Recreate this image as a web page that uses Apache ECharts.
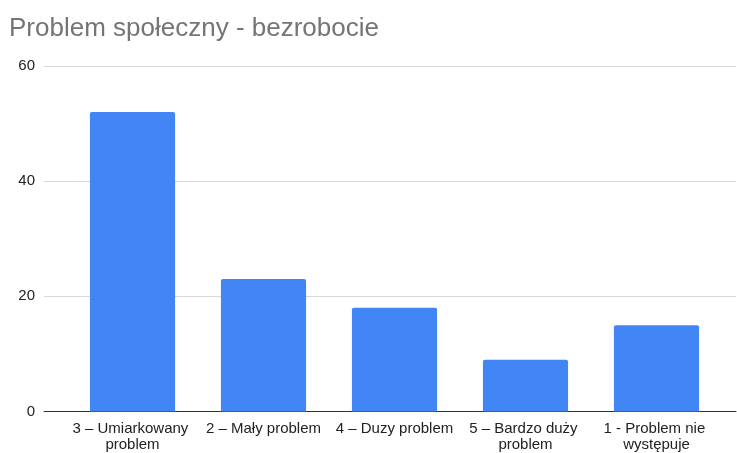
<!DOCTYPE html>
<html>
<head>
<meta charset="utf-8">
<script src="https://cdn.jsdelivr.net/npm/echarts@6/dist/echarts.min.js"></script>
<style>html,body{margin:0;padding:0;background:#fff}#c{width:737px;height:453px}</style>
</head>
<body>
<div id="c"></div>
<script>
const title = "Problem społeczny - bezrobocie";
const categories = ["3 – Umiarkowany problem", "2 – Mały problem", "4 – Duzy problem", "5 – Bardzo duży problem", "1 - Problem nie występuje"];
const values = [52, 23, 18, 9, 15];
const yTicks = { min: 0, max: 60, interval: 20 };

const chart = echarts.init(document.getElementById('c'), null, { renderer: 'canvas' });
const font = 'Arial, "Liberation Sans", sans-serif';
chart.setOption({
  animation: false,
  title: {
    text: title, left: 4, top: 11,
    textStyle: { fontFamily: font, fontSize: 26, fontWeight: 'normal', color: '#757575' }
  },
  grid: [
    { left: 44, right: 1, top: 66, bottom: 41.5, containLabel: false },
    { left: 67, right: 15, top: 66, bottom: 41.5, containLabel: false }
  ],
  xAxis: [
    { gridIndex: 0, type: 'category', data: [''], axisLine: { lineStyle: { color: '#333', width: 1 } },
      axisTick: { show: false }, axisLabel: { show: false }, splitLine: { show: false } },
    { gridIndex: 1, type: 'category', data: categories, axisLine: { show: false }, axisTick: { show: false },
      axisLabel: { interval: 0, margin: 9, width: 145, overflow: 'break', lineHeight: 16,
        fontFamily: font, fontSize: 15, color: '#222' } }
  ],
  yAxis: [
    { gridIndex: 0, type: 'value', min: yTicks.min, max: yTicks.max, interval: yTicks.interval,
      axisLine: { show: false }, axisTick: { show: false },
      axisLabel: { margin: 9, fontFamily: font, fontSize: 15, color: '#222' },
      splitLine: { lineStyle: { color: '#d9d9d9', width: 1 } } },
    { gridIndex: 1, type: 'value', min: yTicks.min, max: yTicks.max, interval: yTicks.interval, show: false }
  ],
  series: [{
    type: 'bar', xAxisIndex: 1, yAxisIndex: 1, data: values, barCategoryGap: '35%',
    itemStyle: { color: '#4285F4', borderRadius: [2, 2, 0, 0] }
  }]
});
</script>
</body>
</html>
